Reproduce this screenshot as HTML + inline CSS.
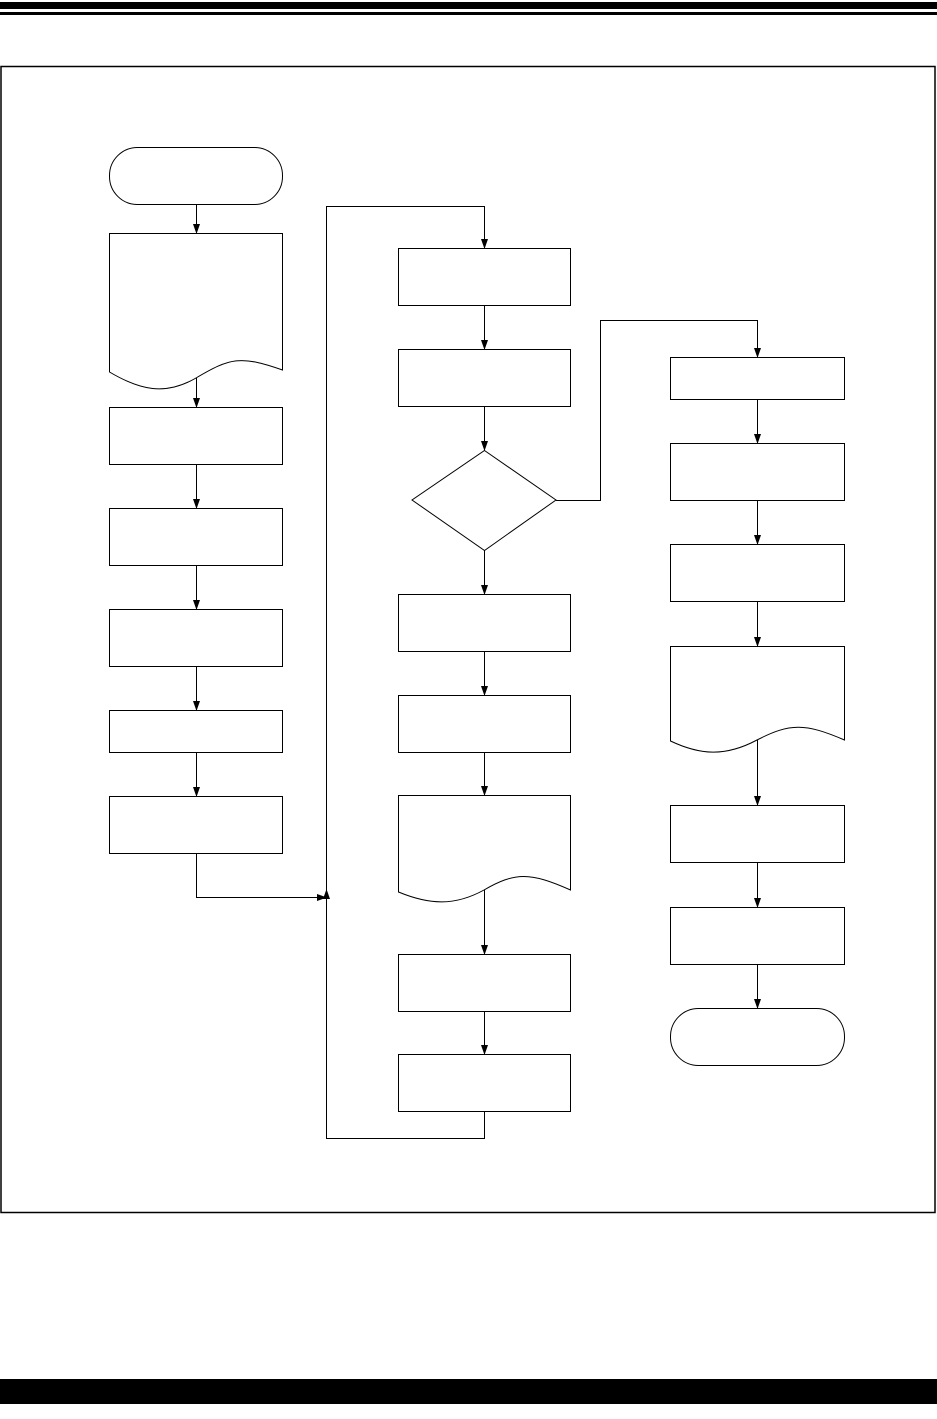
<!DOCTYPE html>
<html><head><style>body{margin:0;background:#fff}svg{display:block}</style></head><body>
<svg width="937" height="1419" viewBox="0 0 937 1419" xmlns="http://www.w3.org/2000/svg">
<defs><marker id="a" markerWidth="10" markerHeight="10" refX="9" refY="5" orient="auto" markerUnits="userSpaceOnUse"><path d="M0,1.5 L10,5 L0,8.5Z" fill="#000"/></marker></defs>
<rect x="0" y="2" width="937" height="7" fill="#000"/>
<rect x="0" y="12" width="937" height="3" fill="#000"/>
<rect x="0" y="1379" width="937" height="25" fill="#000"/>
<rect x="1" y="66.5" width="934" height="1146" fill="none" stroke="#000" stroke-width="1.5"/>
<g fill="none" stroke="#000" stroke-width="1">
<rect x="109.5" y="147.5" width="173" height="57" rx="28"/>
<path d="M109.5,233.5 H282.5 V370 C240,355 230,358 196,378 C165,396 140,390 109.5,372 Z"/>
<rect x="109.5" y="407.5" width="173" height="57"/>
<rect x="109.5" y="508.5" width="173" height="57"/>
<rect x="109.5" y="609.5" width="173" height="57"/>
<rect x="109.5" y="710.5" width="173" height="42"/>
<rect x="109.5" y="796.5" width="173" height="57"/>
<rect x="398.5" y="248.5" width="172" height="57"/>
<rect x="398.5" y="349.5" width="172" height="57"/>
<path d="M484.5,450.5 L556,500 L484.5,550.5 L412,500 Z"/>
<rect x="398.5" y="594.5" width="172" height="57"/>
<rect x="398.5" y="695.5" width="172" height="57"/>
<path d="M398.5,795.5 H570.5 V890 C530,872 515,872 484,890 C455,906 430,905 398.5,892 Z"/>
<rect x="398.5" y="954.5" width="172" height="57"/>
<rect x="398.5" y="1054.5" width="172" height="57"/>
<rect x="670.5" y="357.5" width="174" height="42"/>
<rect x="670.5" y="443.5" width="174" height="57"/>
<rect x="670.5" y="544.5" width="174" height="57"/>
<path d="M670.5,646.5 H844.5 V740 C805,723 790,723 757,740 C725,757 700,755 670.5,741 Z"/>
<rect x="670.5" y="805.5" width="174" height="57"/>
<rect x="670.5" y="907.5" width="174" height="57"/>
<rect x="670.5" y="1008.5" width="174" height="57" rx="28"/>
<g marker-end="url(#a)">
<path d="M196.5,204 V233"/>
<path d="M196.5,378 V407"/>
<path d="M196.5,464 V508"/>
<path d="M196.5,565 V609"/>
<path d="M196.5,666 V710"/>
<path d="M196.5,752 V796"/>
<path d="M196.5,853 V897.5 H326"/>
<path d="M484.5,1111 V1138.5 H326.5 V890"/>
<path d="M326.5,900 V206.5 H484.5 V248"/>
<path d="M484.5,305 V349"/>
<path d="M484.5,406 V450"/>
<path d="M484.5,550 V594"/>
<path d="M484.5,651 V695"/>
<path d="M484.5,752 V795"/>
<path d="M484.5,890 V954"/>
<path d="M484.5,1011 V1054"/>
<path d="M556,500.5 H600.5 V320.5 H757.5 V357"/>
<path d="M757.5,399 V443"/>
<path d="M757.5,500 V544"/>
<path d="M757.5,601 V646"/>
<path d="M757.5,740 V805"/>
<path d="M757.5,862 V907"/>
<path d="M757.5,964 V1008"/>
</g>
</g>
</svg>
</body></html>
